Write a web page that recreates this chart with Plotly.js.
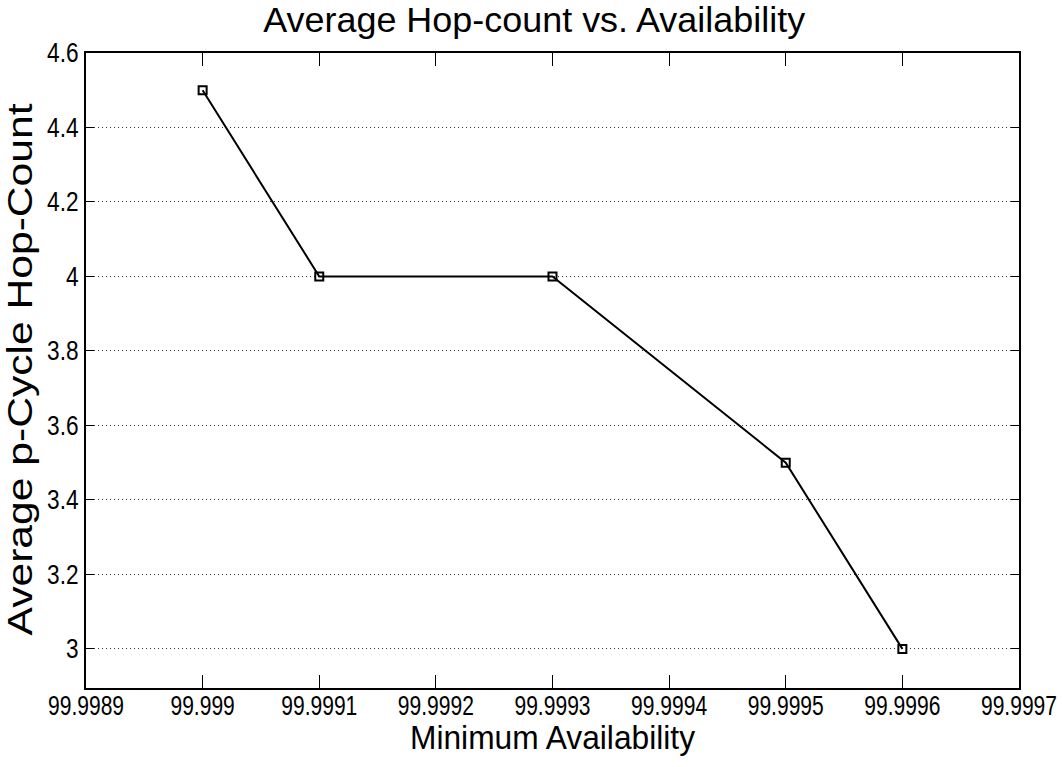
<!DOCTYPE html>
<html>
<head>
<meta charset="utf-8">
<script src="https://cdn.plot.ly/plotly-3.0.1.min.js"></script>
<style>html,body{margin:0;padding:0;background:#fff;}#chart{width:1062px;height:767px;}</style>
</head>
<body>
<div id="chart"></div>
<script>
// Data
const availability = [99.999, 99.9991, 99.9993, 99.9995, 99.9996];
const hopCount = [4.5, 4.0, 4.0, 3.5, 3.0];

const xTickVals = [99.9989, 99.999, 99.9991, 99.9992, 99.9993, 99.9994, 99.9995, 99.9996, 99.9997];
const xTickText = ["99.9989", "99.999", "99.9991", "99.9992", "99.9993", "99.9994", "99.9995", "99.9996", "99.9997"];
const yTickVals = [3, 3.2, 3.4, 3.6, 3.8, 4, 4.2, 4.4, 4.6];
const yTickText = ["3", "3.2", "3.4", "3.6", "3.8", "4", "4.2", "4.4", "4.6"];

const font = "'Liberation Sans', Arial, Helvetica, sans-serif";

const trace = {
  x: availability,
  y: hopCount,
  mode: 'lines+markers',
  type: 'scatter',
  line: {color: '#000', width: 2},
  marker: {symbol: 'square-open', size: 8, color: '#000', line: {width: 2, color: '#000'}},
  showlegend: false
};

const layout = {
  width: 1062,
  height: 767,
  margin: {l: 86, r: 43, t: 53, b: 79},
  paper_bgcolor: '#fff',
  plot_bgcolor: '#fff',
  title: {
    text: 'Average Hop-count vs. Availability',
    font: {family: font, size: 35, color: '#000'},
    x: 0.503, xanchor: 'center',
    y: 0.99, yanchor: 'top'
  },
  xaxis: {
    range: [99.9989 - 1e-8, 99.9997 + 1e-8],
    tickvals: xTickVals,
    ticktext: xTickText,
    ticks: 'inside',
    ticklen: 13,
    tickcolor: '#000',
    tickwidth: 1,
    ticklabelstandoff: -7,
    ticklabeloverflow: 'allow',
    showline: true,
    linecolor: '#000',
    linewidth: 2,
    mirror: 'ticks',
    showgrid: false,
    zeroline: false,
    tickfont: {family: font, size: 27, color: '#000'},
    title: {text: 'Minimum Availability', font: {family: font, size: 34, color: '#000'}, standoff: 0}
  },
  yaxis: {
    range: [2.895, 4.6],
    tickvals: yTickVals,
    ticktext: yTickText,
    ticks: 'inside',
    ticklen: 8,
    tickcolor: '#000',
    tickwidth: 1,
    showline: true,
    linecolor: '#000',
    linewidth: 2,
    mirror: 'ticks',
    showgrid: true,
    gridcolor: '#333',
    griddash: '1px,3px',
    gridwidth: 1,
    zeroline: false,
    tickfont: {family: font, size: 27, color: '#000'},
    title: {text: 'Average p-Cycle Hop-Count', font: {family: font, size: 35, color: '#000'}, standoff: 6}
  }
};

// Compress/stretch rendered text to match the reference's narrow typeface
function fit(el, factor, target) {
  const w = el.getComputedTextLength();
  const len = target ? target : w * factor;
  el.setAttribute('lengthAdjust', 'spacingAndGlyphs');
  el.setAttribute('textLength', len.toFixed(1));
}

Plotly.newPlot('chart', [trace], layout, {displayModeBar: false, staticPlot: true}).then(gd => {
  gd.querySelectorAll('.xtick text').forEach(el => fit(el, 0.78));
  gd.querySelectorAll('.ytick text').forEach(el => fit(el, 0.84));
  const t = gd.querySelector('.gtitle'); if (t) fit(t, 1, 542);
  const xt = gd.querySelector('.xtitle');
  if (xt) {
    fit(xt, 1, 285);
    xt.setAttribute('y', (parseFloat(xt.getAttribute('y')) - 3).toFixed(1));
  }
  const yt = gd.querySelector('.ytitle');
  if (yt) {
    fit(yt, 1, 532);
    yt.setAttribute('transform', 'translate(0,-1) ' + (yt.getAttribute('transform') || ''));
  }
});
</script>
</body>
</html>
